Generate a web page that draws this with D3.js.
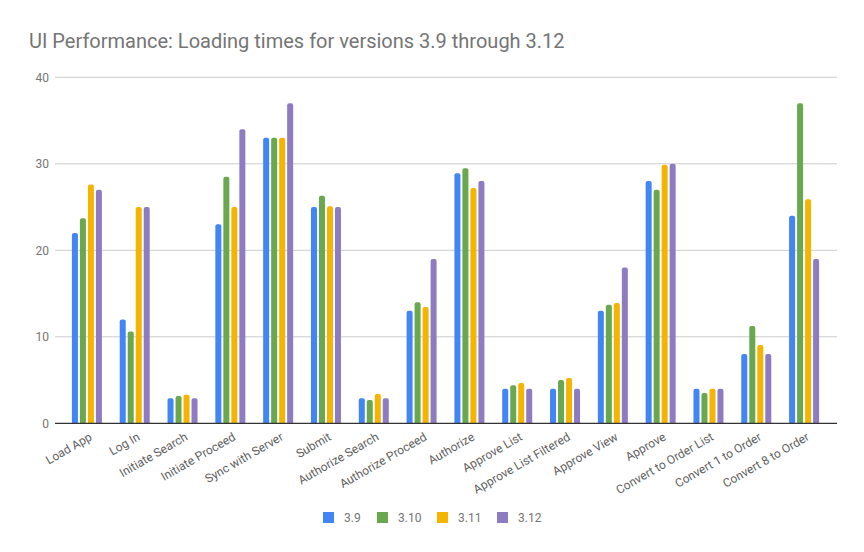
<!DOCTYPE html>
<html>
<head>
<meta charset="utf-8">
<script src="https://cdn.jsdelivr.net/npm/d3@7/dist/d3.min.js"></script>
<style>
  html, body { margin: 0; padding: 0; background: #fff; }
  svg { display: block; font-family: Roboto, "Noto Sans", sans-serif; }
</style>
</head>
<body>
<svg id="chart" width="864" height="552"></svg>
<script>
const title = "UI Performance: Loading times for versions 3.9 through 3.12";
const categories = ["Load App", "Log In", "Initiate Search", "Initiate Proceed", "Sync with Server", "Submit",
  "Authorize Search", "Authorize Proceed", "Authorize", "Approve List", "Approve List Filtered",
  "Approve View", "Approve", "Convert to Order List", "Convert 1 to Order", "Convert 8 to Order"];
const seriesNames = ["3.9", "3.10", "3.11", "3.12"];
const v39  = [22, 12, 2.9, 23, 33, 25, 2.9, 13, 28.9, 4, 4, 13, 28, 4, 8, 24];
const v310 = [23.7, 10.6, 3.15, 28.5, 33, 26.3, 2.7, 14, 29.5, 4.4, 5, 13.7, 27, 3.5, 11.25, 37];
const v311 = [27.6, 25, 3.3, 25, 33, 25.1, 3.4, 13.45, 27.2, 4.65, 5.25, 13.9, 29.9, 4, 9.05, 25.9];
const v312 = [27, 25, 2.9, 34, 37, 25, 2.9, 19, 28, 4, 4, 18, 30, 4, 8, 19];
const yTicks = [0, 10, 20, 30, 40];
const colors = ["#4285f4", "#6aa84f", "#f4b400", "#8e7cc3"];

const seriesValues = [v39, v310, v311, v312];
const svg = d3.select("#chart");

const plot = { left: 55, right: 837, top: 77.3, bottom: 423.3 };

svg.append("text")
  .attr("x", 29).attr("y", 48)
  .attr("font-size", 20).attr("fill", "#757575")
  .text(title);

const y = d3.scaleLinear().domain([0, 40]).range([plot.bottom, plot.top]);
const x = d3.scaleBand().domain(categories).range([63, 828]).paddingInner(0).paddingOuter(0);
const xs = d3.scaleBand().domain(seriesNames).range([0, 32]).paddingInner(0.25).paddingOuter(0.125);

// gridlines
svg.append("g").selectAll("line").data(yTicks.filter(d => d !== 0)).join("line")
  .attr("x1", plot.left).attr("x2", plot.right)
  .attr("y1", d => y(d)).attr("y2", d => y(d))
  .attr("stroke", "#cccccc").attr("stroke-width", 1);

// y axis labels
const yAxis = d3.axisLeft(y).tickValues(yTicks).tickSize(0).tickPadding(0);
const yg = svg.append("g").attr("transform", `translate(49,0)`).call(yAxis);
yg.select(".domain").remove();
yg.selectAll("text").attr("font-size", 12).attr("fill", "#757575")
  .attr("font-family", "Roboto, sans-serif");

// bars
function barPath(x0, w, yTop, yBot, r) {
  const h = yBot - yTop;
  r = Math.min(r, h / 2, w / 2);
  return `M${x0},${yBot}V${yTop + r}Q${x0},${yTop} ${x0 + r},${yTop}H${x0 + w - r}Q${x0 + w},${yTop} ${x0 + w},${yTop + r}V${yBot}Z`;
}
const groups = svg.append("g").selectAll("g").data(categories).join("g")
  .attr("transform", c => `translate(${x(c) + x.bandwidth() / 2 - 16},0)`);
groups.selectAll("path").data((c, i) => seriesNames.map((s, j) => ({ s, j, v: seriesValues[j][i] })))
  .join("path")
  .attr("d", d => barPath(xs(d.s), xs.bandwidth(), y(d.v), y(0), 2))
  .attr("fill", d => colors[d.j]);

// baseline
svg.append("line")
  .attr("x1", plot.left).attr("x2", plot.right)
  .attr("y1", y(0)).attr("y2", y(0))
  .attr("stroke", "#333333").attr("stroke-width", 1.3);

// x labels
const xAxis = d3.axisBottom(x).tickSize(0).tickPadding(0);
const xg = svg.append("g").attr("transform", `translate(0,${plot.bottom})`).call(xAxis);
xg.select(".domain").remove();
xg.selectAll(".tick text")
  .attr("font-size", 12).attr("fill", "#5f5f5f").attr("font-family", "Roboto, sans-serif")
  .attr("text-anchor", "end")
  .attr("dy", null)
  .attr("transform", "translate(6,16) rotate(-30)");

// legend
const legendX = [323, 377, 437, 497];
const lg = svg.append("g").selectAll("g").data(seriesNames).join("g")
  .attr("transform", (d, i) => `translate(${legendX[i]},512)`);
lg.append("rect").attr("width", 11).attr("height", 11).attr("fill", (d, i) => colors[i]);
lg.append("text").attr("x", 21).attr("y", 10).attr("font-size", 12).attr("fill", "#757575").text(d => d);
</script>
</body>
</html>
